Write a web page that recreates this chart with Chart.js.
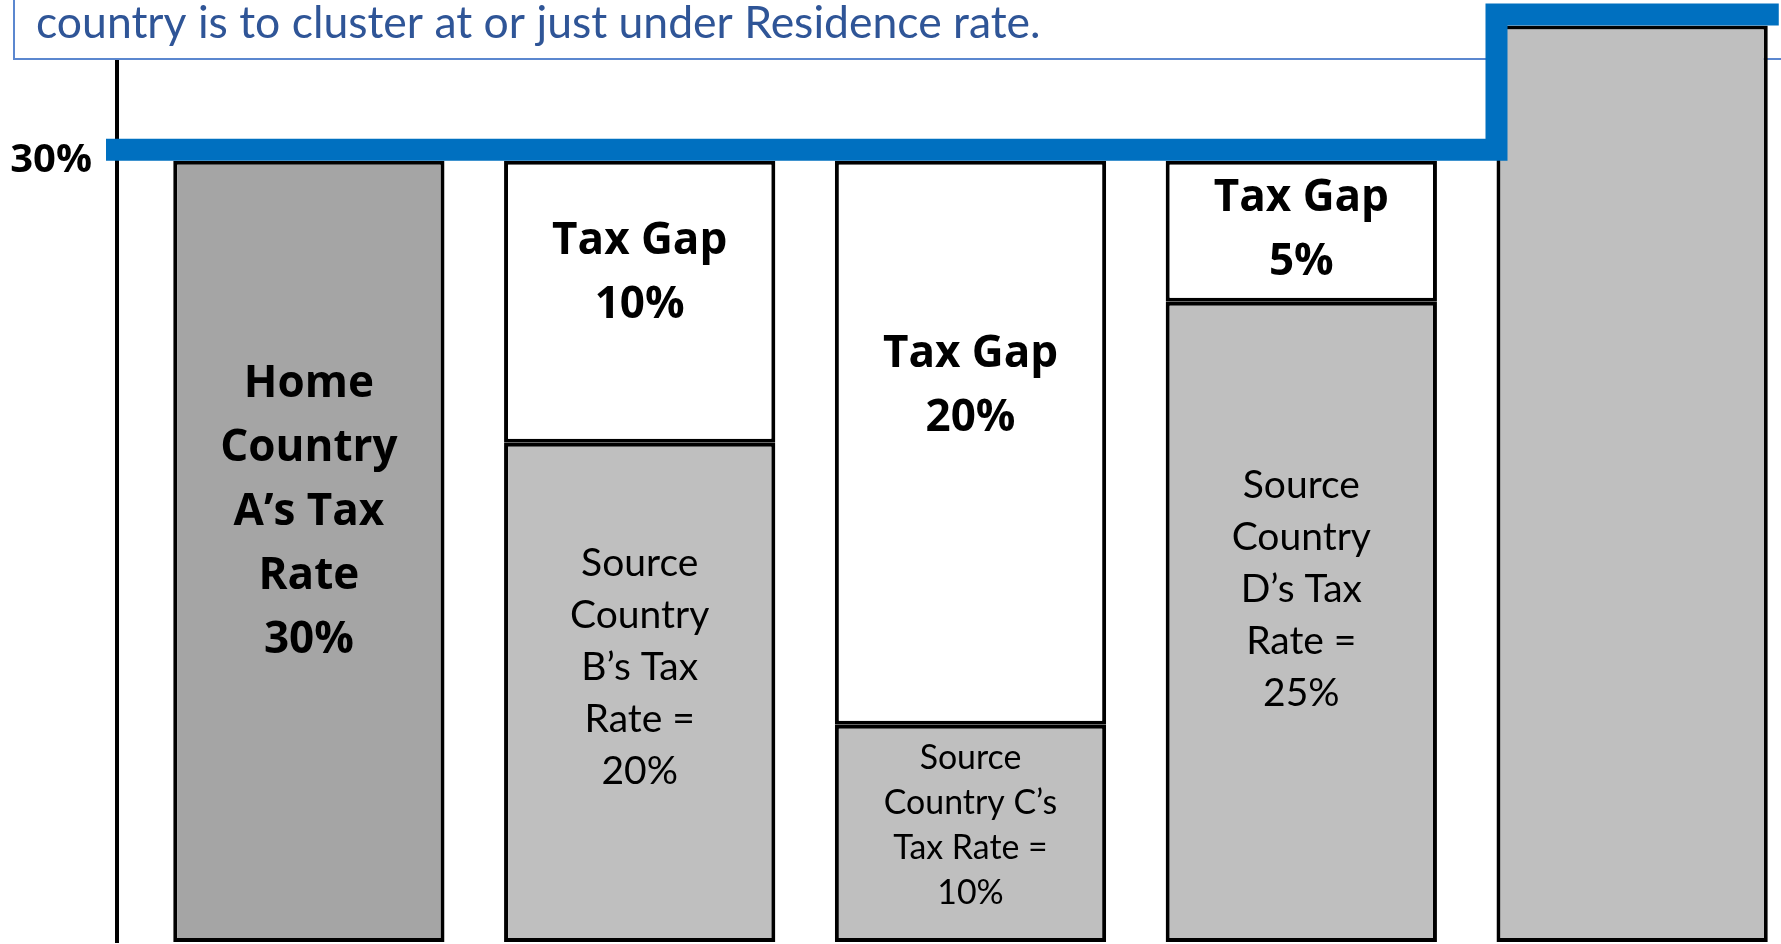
<!DOCTYPE html>
<html>
<head>
<meta charset="utf-8">
<script src="https://cdn.jsdelivr.net/npm/chart.js@4.4.1/dist/chart.umd.min.js"></script>
<style>
    html, body { margin: 0; padding: 0; background: #fff; }
    #wrap { position: relative; width: 1781px; height: 944px; }
</style>
</head>
<body>
<div id="wrap"><canvas id="graficaBrecha"></canvas></div>
<script>

// Countries, left to right
const categories = ["A", "B", "C", "D", "E"];

// Tax rate of each country (%) and the gap up to the residence rate (%)
const sourceRate = [30, 20, 10, 25, 34.8];
const taxGap = [0, 10, 20, 5, 0];

// Residence rate line (%)
const residenceRate = [30, 30, 30, 30, 34.8];

// Y axis ticks
const yTickValues = [30];
const yTickLabels = ["30%"];

// Text written inside the bars
const rateLines = [
    ["Home", "Country", "A’s Tax", "Rate", "30%"],
    ["Source", "Country", "B’s Tax", "Rate =", "20%"],
    ["Source", "Country C’s", "Tax Rate =", "10%"],
    ["Source", "Country", "D’s Tax", "Rate =", "25%"],
    []
];
const gapLines = [
    [],
    ["Tax Gap", "10%"],
    ["Tax Gap", "20%"],
    ["Tax Gap", "5%"],
    []
];

const titleText = "country is to cluster at or just under Residence rate.";

const barFill = ["#a5a5a5", "#bfbfbf", "#bfbfbf", "#bfbfbf", "#bfbfbf"];
const barPct = 0.82;
const yMin = 2.3, yMax = 35.7;
const xMin = -0.58, xMax = 4.45;

const boldFont = { family: '"Open Sans"', weight: 700, size: 44, lineHeight: 64 };
const plainFont = { family: 'Lato', weight: 400, size: 39, lineHeight: 52 };

// Blue rule: runs along the residence rate and steps up at the last bar
const half = barPct / 2;
const rulePoints = [{ x: xMin, y: residenceRate[0] }];
residenceRate.forEach((r, i) => rulePoints.push({ x: i - half, y: r }));
rulePoints.push({ x: residenceRate.length - 1 + half, y: residenceRate[residenceRate.length - 1] });

// Text box at the top, drawn under the bars but over the axis line
const titleBox = {
    id: 'titleBox',
    beforeDatasetsDraw(chart) {
        const ctx = chart.ctx;
        ctx.save();
        ctx.fillStyle = '#ffffff';
        ctx.fillRect(14, -10, chart.width, 69);
        ctx.strokeStyle = '#5b87cf';
        ctx.lineWidth = 2;
        ctx.strokeRect(14, -10, chart.width, 69);
        ctx.fillStyle = '#2f5597';
        ctx.font = '44.5px Lato';
        ctx.textBaseline = 'alphabetic';
        ctx.fillText(titleText, 36, 38);
        ctx.restore();
    }
};

// Keep the thick rule sitting on top of the bars
const liftRule = {
    id: 'liftRule',
    beforeDatasetDraw(chart, args) {
        if (args.meta.type !== 'line') return;
        chart.ctx.save();
        chart.ctx.translate(0, -args.meta.dataset.options.borderWidth / 2);
    },
    afterDatasetDraw(chart, args) {
        if (args.meta.type === 'line') chart.ctx.restore();
    }
};

// Multi-line label inside one bar segment; shrinks when the segment is short
function drawBlock(ctx, lines, bar, font, frac) {
    if (!lines.length) return;
    const top = Math.min(bar.y, bar.base);
    const h = Math.abs(bar.base - bar.y);
    const need = font.lineHeight * (lines.length - 1) + font.size;
    const k = Math.min(1, h * 0.78 / need);
    const lh = font.lineHeight * k;
    ctx.font = `${font.weight} ${font.size * k}px ${font.family}`;
    const mid = Math.max(top + h * frac, top + need * k / 2 + 16);
    lines.forEach((t, j) => {
        ctx.fillText(t, bar.x, mid + (j - (lines.length - 1) / 2) * lh);
    });
}

const barLabels = {
    id: 'barLabels',
    afterDatasetsDraw(chart) {
        const ctx = chart.ctx;
        const rateBars = chart.getDatasetMeta(0).data;
        const gapBars = chart.getDatasetMeta(1).data;
        ctx.save();
        ctx.textAlign = 'center';
        ctx.textBaseline = 'middle';
        ctx.fillStyle = '#000';
        categories.forEach((c, i) => {
            drawBlock(ctx, rateLines[i], rateBars[i], i === 0 ? boldFont : plainFont, 0.45);
            drawBlock(ctx, gapLines[i], gapBars[i], boldFont, 0.4);
        });
        ctx.restore();
    }
};

const ctx = document.getElementById("graficaBrecha");

new Chart(ctx, {
    type: "bar",
    data: {
        datasets: [
            {
                label: "Tax rate",
                order: 1,
                data: sourceRate.map((v, i) => ({ x: i, y: v })),
                base: yMin,
                backgroundColor: barFill,
                borderColor: "#000",
                borderWidth: 4,
                borderSkipped: false,
                barPercentage: barPct,
                categoryPercentage: 1
            },
            {
                label: "Tax gap",
                order: 2,
                data: taxGap.map((v, i) => ({ x: i, y: v })),
                backgroundColor: "#ffffff",
                borderColor: "#000",
                borderWidth: 4,
                borderSkipped: false,
                barPercentage: barPct,
                categoryPercentage: 1
            },
            {
                type: "line",
                label: "Residence rate",
                order: 0,
                data: rulePoints,
                stepped: true,
                borderColor: "#0070c0",
                borderWidth: 22,
                borderCapStyle: "square",
                borderJoinStyle: "miter",
                pointRadius: 0,
                fill: false,
                clip: false
            }
        ]
    },
    options: {
        responsive: true,
        maintainAspectRatio: false,
        animation: false,
        layout: { padding: { top: 0, left: 0, right: 0, bottom: 2 } },
        plugins: {
            legend: { display: false },
            tooltip: { enabled: false },
            title: { display: false }
        },
        scales: {
            x: {
                type: "linear",
                display: false,
                stacked: true,
                offset: false,
                min: xMin,
                max: xMax,
                grid: { display: false, offset: false },
                afterBuildTicks: (axis) => {
                    axis.ticks = categories.map((c, i) => ({ value: i }));
                }
            },
            y: {
                stacked: true,
                min: yMin,
                max: yMax,
                grid: { display: false, drawTicks: false },
                border: { display: true, color: "#000", width: 4 },
                ticks: {
                    padding: 25,
                    color: "#000",
                    font: { family: '"Open Sans"', weight: 700, size: 40 },
                    callback: (v, i) => yTickLabels[i]
                },
                afterBuildTicks: (axis) => {
                    axis.ticks = yTickValues.map(v => ({ value: v }));
                },
                afterFit: (axis) => {
                    axis.width = 117;
                    axis.paddingTop = 0;
                    axis.paddingBottom = 0;
                }
            }
        }
    },
    plugins: [titleBox, liftRule, barLabels]
});
</script>
</body>
</html>
